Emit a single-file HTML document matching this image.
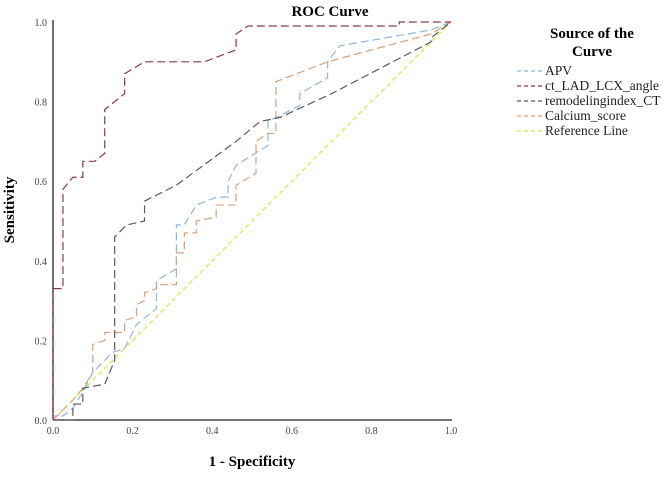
<!DOCTYPE html>
<html><head><meta charset="utf-8"><style>
body{margin:0;background:#fff;font-family:"Liberation Serif",serif}
</style></head><body>
<svg width="666" height="472" xmlns="http://www.w3.org/2000/svg">
<text x="330" y="16" font-size="15" font-weight="bold" text-anchor="middle" font-family="Liberation Serif">ROC Curve</text>
<g id="axes"></g>
<g id="series"></g>
<text transform="translate(14,210) rotate(-90)" font-size="15" font-weight="bold" text-anchor="middle" font-family="Liberation Serif">Sensitivity</text>
<text x="252" y="466" font-size="15" font-weight="bold" text-anchor="middle" font-family="Liberation Serif">1 - Specificity</text>
<g font-family="Liberation Serif">
<text x="592" y="38" font-size="15" font-weight="bold" text-anchor="middle">Source of the</text>
<text x="592" y="56" font-size="15" font-weight="bold" text-anchor="middle">Curve</text>
<g id="legend"></g>
</g>
</svg>
<script>
const tickLabels=["0.0","0.2","0.4","0.6","0.8","1.0"];
const tickValues=[0,0.2,0.4,0.6,0.8,1];
const seriesNames=["APV","ct_LAD_LCX_angle","remodelingindex_CT","Calcium_score","Reference Line"];
const seriesColors=["#8fb6d8","#8a3848","#555a5e","#d9a07a","#e2e24a"];
const apvX=[0,0,0.025,0.05,0.075,0.1,0.15,0.18,0.21,0.26,0.26,0.31,0.31,0.33,0.36,0.41,0.44,0.44,0.46,0.54,0.54,0.58,0.62,0.62,0.69,0.69,0.72,0.95,1];
const apvY=[0,0.01,0.01,0.03,0.07,0.12,0.17,0.18,0.24,0.28,0.35,0.38,0.49,0.49,0.54,0.56,0.56,0.6,0.64,0.69,0.75,0.77,0.79,0.82,0.86,0.9,0.94,0.98,1];
const ctX=[0,0,0.025,0.025,0.05,0.075,0.075,0.105,0.13,0.13,0.18,0.18,0.23,0.38,0.46,0.46,0.49,0.87,0.87,1];
const ctY=[0,0.33,0.33,0.58,0.61,0.61,0.65,0.65,0.67,0.78,0.82,0.87,0.9,0.9,0.93,0.97,0.99,0.99,1,1];
const remX=[0,0.05,0.05,0.075,0.075,0.13,0.155,0.155,0.185,0.23,0.23,0.31,0.46,0.52,0.57,0.7,0.95,0.95,1];
const remY=[0,0,0.04,0.04,0.08,0.09,0.15,0.46,0.49,0.5,0.55,0.59,0.7,0.75,0.76,0.82,0.95,0.96,1];
const calX=[0,0.05,0.075,0.1,0.1,0.13,0.13,0.18,0.18,0.21,0.21,0.23,0.23,0.26,0.26,0.31,0.31,0.33,0.33,0.36,0.36,0.41,0.41,0.46,0.46,0.51,0.51,0.54,0.56,0.56,0.69,0.95,1];
const calY=[0,0.05,0.08,0.12,0.19,0.2,0.22,0.22,0.25,0.26,0.29,0.3,0.32,0.33,0.34,0.34,0.42,0.42,0.47,0.47,0.5,0.51,0.54,0.54,0.59,0.62,0.7,0.72,0.72,0.85,0.9,0.97,1];
const refX=[0,1];
const refY=[0,1];
const NS="http://www.w3.org/2000/svg";
const X0=53,X1=451,Y0=420,Y1=22;
const sx=v=>X0+v*(X1-X0), sy=v=>Y0-v*(Y0-Y1);
const axes=document.getElementById('axes');
function mk(t,a,p){const e=document.createElementNS(NS,t);for(const k in a)e.setAttribute(k,a[k]);p.appendChild(e);return e;}
let ax=mk('line',{x1:X0,y1:Y1-2,x2:X0,y2:Y0,stroke:'#222','stroke-width':1.3},axes);


ax=mk('line',{x1:X0,y1:Y0,x2:X1+1,y2:Y0,stroke:'#222','stroke-width':1.3},axes);


tickValues.forEach((v,i)=>{
 let t=mk('text',{x:sx(v),y:Y0+14,'font-size':10,'text-anchor':'middle','font-family':'Liberation Serif',fill:'#444'},axes);t.textContent=tickLabels[i];
 
 
 t=mk('text',{x:X0-6,y:sy(v)+4,'font-size':10,'text-anchor':'end','font-family':'Liberation Serif',fill:'#444'},axes);t.textContent=tickLabels[i];
 
 
});
const xs=[apvX,ctX,remX,calX,refX],ys=[apvY,ctY,remY,calY,refY];
const sg=document.getElementById('series');
[4,0,3,2,1].forEach(i=>{
 const pts=xs[i].map((x,j)=>sx(x)+','+sy(ys[i][j])).join(' ');
 const p=mk('polyline',{points:pts,fill:'none',stroke:seriesColors[i],'stroke-width':1.2,'stroke-dasharray':i==4?'5,3':'8,4'},sg);
 
 
});
const lg=document.getElementById('legend');
seriesNames.forEach((n,i)=>{
 const y=75+i*15;
 const g=mk('g',{},lg);
 
 
 mk('line',{x1:517,y1:y-4,x2:543,y2:y-4,stroke:seriesColors[i],'stroke-width':1.3,'stroke-dasharray':'4,3'},g);
 const t=mk('text',{x:545,y:y,'font-size':13.5,fill:'#222'},g);t.textContent=n;
});
</script>
</body></html>
